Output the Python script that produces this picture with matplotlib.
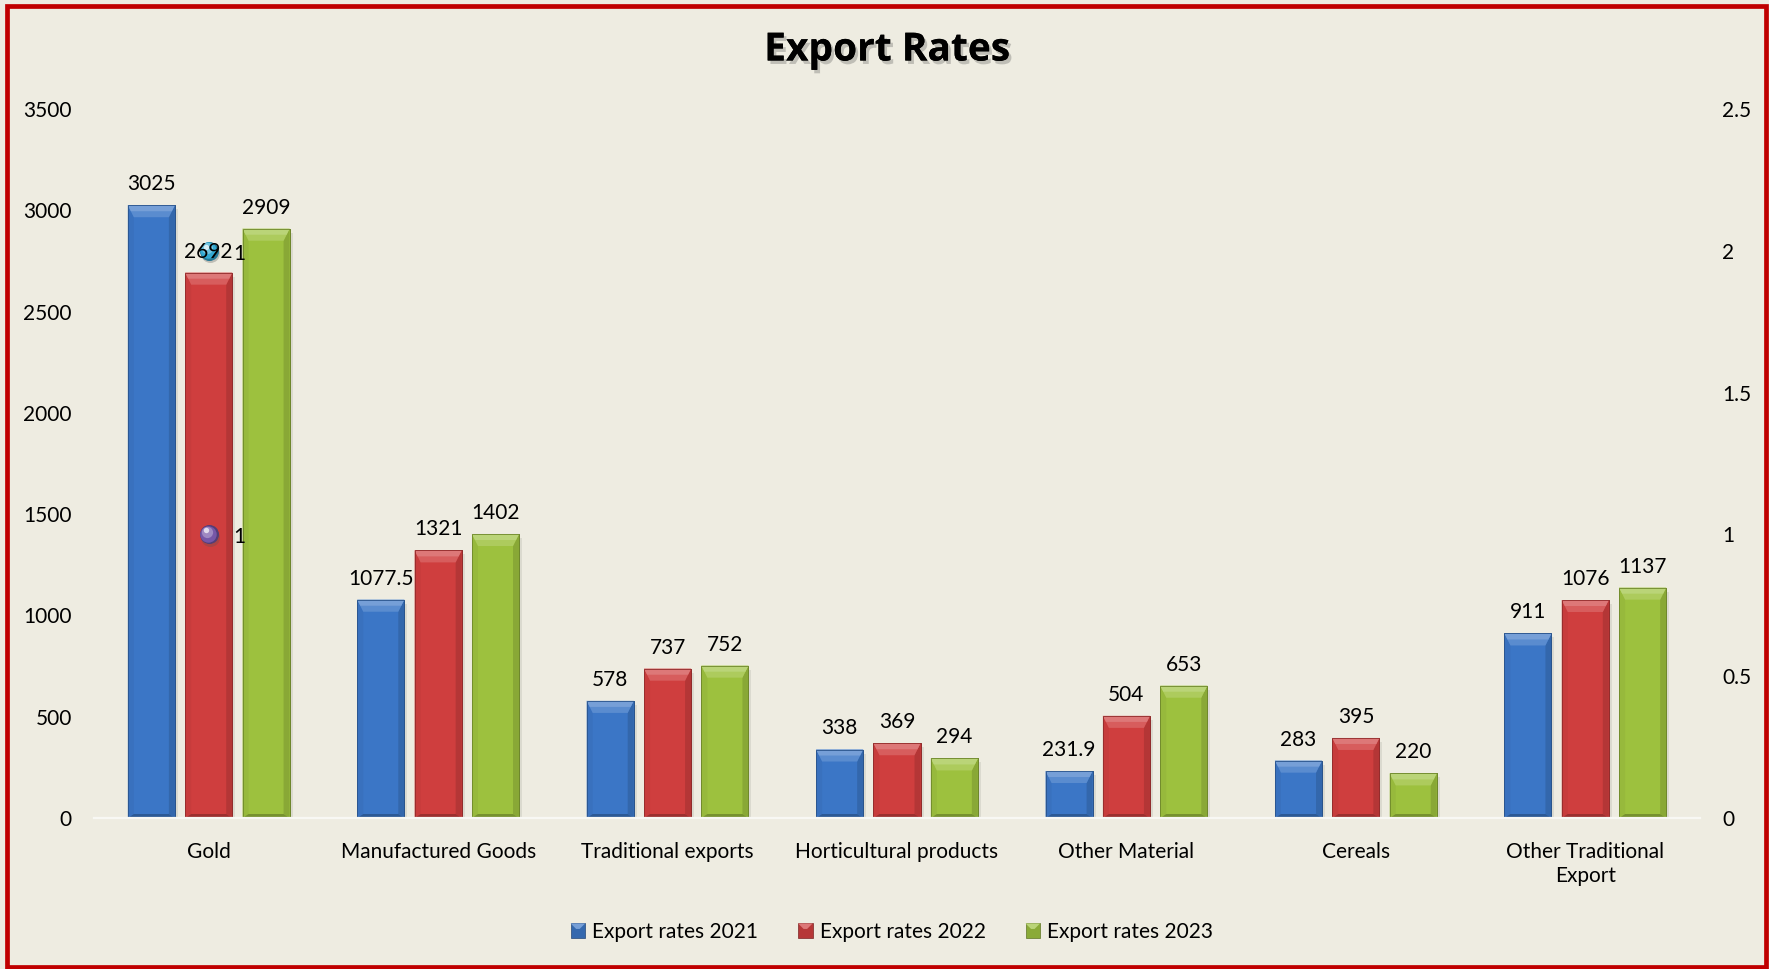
import numpy as np
import matplotlib
matplotlib.use("Agg")
import matplotlib.pyplot as plt
import matplotlib.colors as mcolors
from matplotlib import patheffects as pe
from matplotlib import transforms as mtransforms
from matplotlib.patches import Polygon, Rectangle
from matplotlib.legend_handler import HandlerBase

# ---- data -------------------------------------------------------------
categories = ["Gold", "Manufactured Goods", "Traditional exports",
              "Horticultural products", "Other Material", "Cereals",
              "Other Traditional\nExport"]
exports_2021 = [3025, 1077.5, 578, 338, 231.9, 283, 911]
exports_2022 = [2692, 1321, 737, 369, 504, 395, 1076]
exports_2023 = [2909, 1402, 752, 294, 653, 220, 1137]
series_names = ["Export rates 2021", "Export rates 2022", "Export rates 2023"]

left_ticks = [0, 500, 1000, 1500, 2000, 2500, 3000, 3500]
right_ticks = [0, 0.5, 1, 1.5, 2, 2.5]
right_tick_labels = ["0", "0.5", "1", "1.5", "2", "2.5"]

# two point markers on the secondary axis, at the first category
marker_values = [2, 1]
marker_labels = ["1", "1"]

# ---- style ------------------------------------------------------------
BG = "#EEECE1"
BORDER = "#C00000"
bar_colors = ["#3B76C6", "#CF3E3E", "#9DC13E"]
marker_colors = ["#33A9D2", "#7657A8"]
FS = 15

plt.rcParams["font.family"] = ["Lato", "DejaVu Sans"]
plt.rcParams["text.color"] = "#000000"


def shade(c, f):
    r, g, b = mcolors.to_rgb(c)
    if f >= 0:
        return (r + (1 - r) * f, g + (1 - g) * f, b + (1 - b) * f)
    return (r * (1 + f), g * (1 + f), b * (1 + f))


W, H = 1769, 969
fig = plt.figure(figsize=(W / 100, H / 100), dpi=100, facecolor=BG)

ax_l, ax_r, ax_t, ax_b = 94, 1700, 109, 818
ax = fig.add_axes([ax_l / W, (H - ax_b) / H, (ax_r - ax_l) / W, (ax_b - ax_t) / H])
ax.set_facecolor("none")
ax2 = ax.twinx()

x = np.arange(len(categories))
xlim = (-0.5, len(categories) - 0.5)
ylim = (0, 3500)
ax.set_xlim(*xlim)
ax.set_ylim(*ylim)
ax2.set_ylim(0, 2.5)

px_x = (ax_r - ax_l) / (xlim[1] - xlim[0])
px_y = (ax_b - ax_t) / (ylim[1] - ylim[0])

width = 0.205
offsets = [-0.25, 0.0, 0.25]
series = [exports_2021, exports_2022, exports_2023]

for vals, off, col in zip(series, offsets, bar_colors):
    bars = ax.bar(x + off, vals, width, color=col, zorder=2,
                  edgecolor=shade(col, -0.35), linewidth=0.6)
    for rect in bars:
        x0 = rect.get_x()
        x1 = x0 + rect.get_width()
        h = rect.get_height()
        # soft drop shadow on the right side
        sh = Rectangle((x1, 0), 3 / px_x, max(h - 4 / px_y, 0),
                       facecolor="#8A8A80", alpha=0.18, edgecolor="none", zorder=1.9)
        ax.add_patch(sh)
        hp = h * px_y
        bt = min(12, hp * 0.45) / px_y
        bb = min(4, hp * 0.2) / px_y
        bs = 6 / px_x
        left = Polygon([(x0, 0), (x0, h), (x0 + bs, h - bt), (x0 + bs, bb)],
                       closed=True, facecolor=shade(col, -0.04), edgecolor="none", zorder=2.1)
        right = Polygon([(x1, 0), (x1, h), (x1 - bs, h - bt), (x1 - bs, bb)],
                        closed=True, facecolor=shade(col, -0.13), edgecolor="none", zorder=2.1)
        bottom = Polygon([(x0, 0), (x1, 0), (x1 - bs, bb), (x0 + bs, bb)],
                         closed=True, facecolor=shade(col, -0.25), edgecolor="none", zorder=2.15)
        # top bevel drawn as two bands for a soft gradient
        top = Polygon([(x0, h), (x1, h), (x1 - bs, h - bt), (x0 + bs, h - bt)],
                      closed=True, facecolor=shade(col, 0.16), edgecolor="none", zorder=2.2)
        top_hi = Polygon([(x0, h), (x1, h), (x1 - bs * 0.5, h - bt * 0.5),
                          (x0 + bs * 0.5, h - bt * 0.5)],
                         closed=True, facecolor=shade(col, 0.3), edgecolor="none", zorder=2.25)
        for p in (left, right, bottom, top, top_hi):
            ax.add_patch(p)
        ax.add_patch(Rectangle((x0, 0), x1 - x0, h, facecolor="none",
                               edgecolor=shade(col, -0.3), linewidth=0.6, zorder=2.3))
    ax.bar_label(bars, labels=[f"{v:g}" for v in vals], padding=8,
                 fontsize=FS, zorder=6)

# ---- spheres on the secondary scale ------------------------------------
def shifted(dx, dy):
    return ax2.transData + mtransforms.ScaledTranslation(dx / 100, dy / 100, fig.dpi_scale_trans)

S = (19 * 0.72) ** 2
for v, col, lab in zip(marker_values, marker_colors, marker_labels):
    ax.scatter([0], [v], s=S, color="#555555", alpha=0.3, linewidths=0,
               transform=shifted(1.5, -2.5), zorder=4)
    ax.scatter([0], [v], s=S, color=shade(col, -0.3), linewidths=0,
               transform=ax2.transData, zorder=4.1)
    ax.scatter([0], [v], s=S * 0.75, color=col, linewidths=0,
               transform=shifted(-0.8, 0.8), zorder=4.2)
    ax.scatter([0], [v], s=S * 0.35, color=shade(col, 0.3), linewidths=0,
               transform=shifted(-2.0, 2.5), zorder=4.3)
    ax.scatter([0], [v], s=S * 0.08, color="white", alpha=0.7, linewidths=0,
               transform=shifted(-3.0, 4.0), zorder=4.4)
    ax.annotate(lab, xy=(0, v), xycoords=ax2.transData, xytext=(18, -2),
                textcoords="offset points", ha="left", va="center",
                fontsize=FS, zorder=6)

# ---- axes ---------------------------------------------------------------
ax.set_xticks(x, categories)
ax.set_yticks(left_ticks, [str(t) for t in left_ticks])
ax.tick_params(axis="x", length=0, pad=17, labelsize=FS)
ax.tick_params(axis="y", length=0, pad=16, labelsize=FS)
for t in ax.get_xticklabels():
    t.set_linespacing(1.3)
ax2.set_yticks(right_ticks, right_tick_labels)
ax2.tick_params(axis="y", length=0, pad=16, labelsize=FS)

for s in ("left", "right", "top"):
    ax.spines[s].set_visible(False)
for s in ax2.spines.values():
    s.set_visible(False)
ax.spines["bottom"].set_color("#F8F8F4")
ax.spines["bottom"].set_linewidth(1.6)

# ---- title --------------------------------------------------------------
fig.text(887 / W, 1 - 50 / H, "Export Rates", ha="center", va="center",
         fontsize=28, fontweight="bold", family=["Open Sans", "DejaVu Sans"],
         path_effects=[pe.withSimplePatchShadow(offset=(2.0, -2.5),
                                                shadow_rgbFace="#555555", alpha=0.3),
                       pe.Normal()])


# ---- legend -------------------------------------------------------------
class BevelSquare(HandlerBase):
    def __init__(self, color):
        super().__init__()
        self.color = color

    def create_artists(self, legend, orig_handle, xdescent, ydescent,
                       width, height, fontsize, trans):
        s = min(width, height)
        x0 = -xdescent + (width - s) / 2
        y0 = -ydescent + (height - s) / 2
        b = s * 0.38
        c = self.color
        return [
            Rectangle((x0, y0), s, s, facecolor=shade(c, -0.12),
                      edgecolor=shade(c, -0.4), linewidth=0.5, transform=trans),
            Polygon([(x0, y0 + s), (x0 + s, y0 + s), (x0 + s - b, y0 + s - b),
                     (x0 + b, y0 + s - b)], closed=True,
                    facecolor=shade(c, 0.3), edgecolor="none", transform=trans),
        ]


proxies = [Rectangle((0, 0), 1, 1, facecolor=c) for c in bar_colors]
fig.legend(proxies, series_names, loc="center",
           bbox_to_anchor=(892 / W, 1 - 932 / H), ncol=3, frameon=False,
           fontsize=FS, handlelength=0.7, handleheight=0.7,
           handletextpad=0.35, columnspacing=1.9,
           handler_map={p: BevelSquare(c) for p, c in zip(proxies, bar_colors)})

# ---- outer border -------------------------------------------------------
fig.patches.append(Rectangle((6.5 / W, 2 / H), (1766 - 6.5) / W, (967 - 6) / H,
                             transform=fig.transFigure, fill=False,
                             edgecolor=BORDER, linewidth=3.4, zorder=10))

fig.savefig("out.png", dpi=100, facecolor=fig.get_facecolor())
